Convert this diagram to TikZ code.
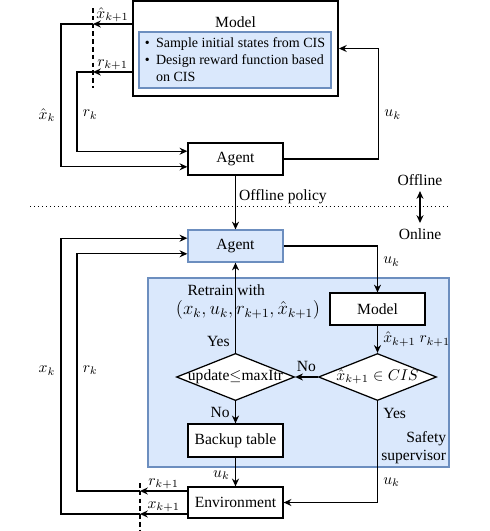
\documentclass[tikz,border=0pt]{standalone}
\usepackage[no-math]{fontspec}
\setmainfont{Liberation Serif}
\usepackage{amsmath}
\usetikzlibrary{shapes.geometric,arrows.meta}

\definecolor{supblue}{HTML}{DAE8FC}
\definecolor{supedge}{HTML}{6C8EBF}

\tikzset{
  block/.style={draw, line width=0.8pt, fill=white, minimum width=61pt, minimum height=20.5pt, inner sep=2pt},
  blueblock/.style={block, fill=supblue, draw=supedge},
  decision/.style={diamond, draw, line width=0.8pt, fill=white, aspect=2.5, inner xsep=-4pt, inner ysep=0pt, minimum width=75.8pt, minimum height=30.2pt},
  arr/.style={-{Stealth[length=5pt,width=4.5pt]}, line width=0.8pt},
  sample/.style={line width=0.8pt, dash pattern=on 3pt off 2pt},
}

\begin{document}
\begin{tikzpicture}[x=0.642pt, y=-0.642pt]
\useasboundingbox (0,0) rectangle (490,531);

% offline part
\node[draw, line width=1.2pt, minimum width=131.6pt, minimum height=61pt] (model) at (235.5,48.5) {};
\node (modeltitle) at (235.5,22) {Model};
\node[draw=supedge, fill=supblue, line width=0.8pt, minimum width=123.3pt, minimum height=36pt, align=left, inner xsep=1pt, inner ysep=1pt, font=\fontsize{9}{10.9}\selectfont] (cis) at (235,60) {\textbullet\hspace{4pt}Sample initial states from CIS\\ \textbullet\hspace{4pt}Design reward function based\\ \hphantom{\textbullet\hspace{4pt}}on CIS};
\node[block] (agentoff) at (235.5,159) {Agent};

\coordinate (xs) at (93,24);
\coordinate (rs) at (93,72);
\draw[sample] (93,8) -- (93,88);

\draw[arr] (model.west |- xs) -- (xs) node[midway, above, inner sep=1pt] {$\hat{x}_{k+1}$};
\draw[arr] (xs) -- ++(-32,0) |- ([yshift=-5pt]agentoff.west) node[pos=0.32, left] {$\hat{x}_k$};
\draw[arr] (model.west |- rs) -- (rs) node[midway, above, inner sep=1pt] {$r_{k+1}$};
\draw[arr] (rs) -- ++(-16,0) |- ([yshift=5pt]agentoff.west) node[pos=0.27, right] {$r_k$};
\draw[arr] (agentoff.east) -- ++(95,0) |- (model.east) node[pos=0.2, right] {$u_k$};

% offline / online
\draw[dotted, line width=0.6pt] (30,206) -- (450,206);
\node (offline) at (420,180) {Offline};
\node (online) at (420,234) {Online};
\draw[{Stealth[length=5pt,width=4.5pt]}-{Stealth[length=5pt,width=4.5pt]}, line width=0.8pt] (offline) -- (online);

% online part
\node[draw=supedge, fill=supblue, line width=0.8pt, minimum width=193.2pt, minimum height=121.3pt] (safety) at (298.5,372.5) {};
\node[anchor=south east, align=right, inner sep=2pt] (safetytext) at (safety.south east) {Safety\\supervisor};

\node[blueblock] (agenton) at (235.5,246) {Agent};
\node[block] (modelon) at (377.5,309) {Model};
\node[decision] (check) at (377.5,377) {$\hat{x}_{k+1}\in CIS$};
\node[decision] (update) at (235.5,377) {update$\leq$maxItr};
\node[block, minimum height=21.2pt] (backup) at (235.5,440.5) {Backup table};
\node[block, minimum height=19.9pt] (env) at (235.5,502.5) {Environment};
\node[align=left] (retrain) at (248,302) {\hspace{7.5pt}Retrain with\\ {\large$(x_k, u_k, r_{k+1}, \hat{x}_{k+1})$}};

\draw[arr] (agentoff) -- (agenton) node[pos=0.4, right, inner sep=2pt] {Offline policy};
\draw[arr] (agenton.east) -| (modelon.north) node[pos=0.67, right] {$u_k$};
\draw[arr] (modelon) -- (check) node[midway, right] {$\hat{x}_{k+1}\ r_{k+1}$};
\draw[arr] (check) -- (update) node[midway, above] {No};
\draw[arr] (update) -- (agenton) node[pos=0.12, left] {Yes};
\draw[arr] (update) -- (backup) node[midway, left] {No};
\draw[arr] (check.south) |- (env.east) node[pos=0.06, right] {Yes} node[pos=0.4, right] {$u_k$};
\draw[arr] (backup) -- (env) node[pos=0.6, left] {$u_k$};

\coordinate (renv) at (140,491);
\coordinate (xenv) at (140,514);
\draw[sample] (140,483) -- (140,531);

\draw[arr] (env.west |- renv) -- (renv) node[midway, above, inner sep=1pt] {$r_{k+1}$};
\draw[arr] (renv) -- ++(-63,0) |- ([yshift=-5pt]agenton.west) node[pos=0.255, right] {$r_k$};
\draw[arr] (env.west |- xenv) -- (xenv) node[midway, above, inner sep=1pt] {$x_{k+1}$};
\draw[arr] (xenv) -- ++(-79,0) |- ([yshift=5pt]agenton.west) node[pos=0.26, left] {$x_k$};

\end{tikzpicture}
\end{document}
